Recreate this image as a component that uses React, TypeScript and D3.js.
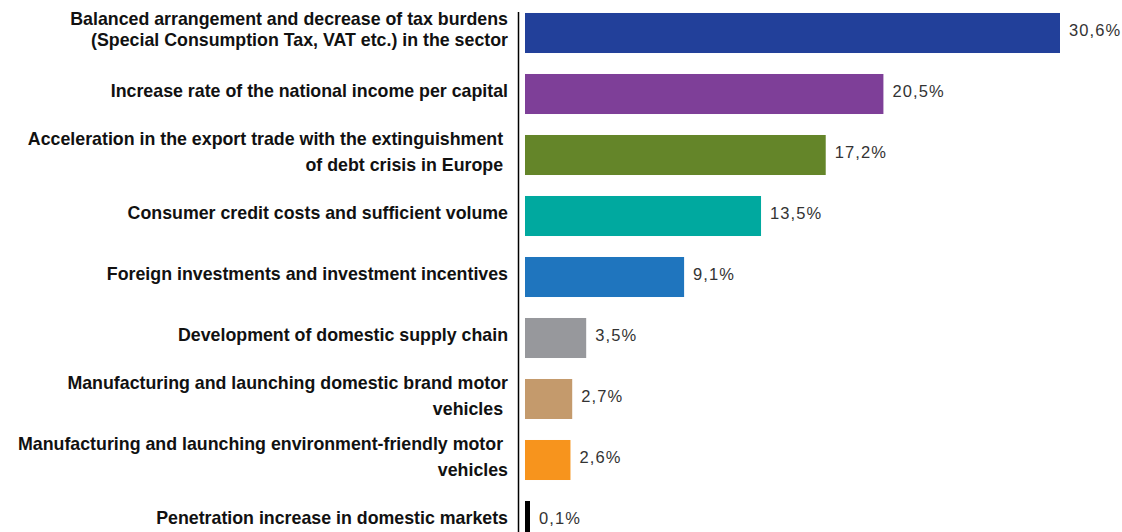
import React from "react";
import * as d3 from "d3";

const categories: string[][] = [
  ["Balanced arrangement and decrease of tax burdens", "(Special Consumption Tax, VAT etc.) in the sector"],
  ["Increase rate of the national income per capital"],
  ["Acceleration in the export trade with the extinguishment ", "of debt crisis in Europe "],
  ["Consumer credit costs and sufficient volume"],
  ["Foreign investments and investment incentives"],
  ["Development of domestic supply chain"],
  ["Manufacturing and launching domestic brand motor", "vehicles "],
  ["Manufacturing and launching environment-friendly motor ", "vehicles"],
  ["Penetration increase in domestic markets"],
];
const values: number[] = [30.6, 20.5, 17.2, 13.5, 9.1, 3.5, 2.7, 2.6, 0.1];
const valueLabels: string[] = ["30,6%", "20,5%", "17,2%", "13,5%", "9,1%", "3,5%", "2,7%", "2,6%", "0,1%"];
const colors: string[] = ["#22409A", "#7E3F98", "#648529", "#00A99F", "#1F75BE", "#97989C", "#C49A6C", "#F7941D", "#000000"];
const lineGaps: number[] = [21, 0, 26, 0, 0, 0, 26, 26, 0];

export default function App() {
  const W = 1122, H = 532;
  const ids = categories.map((_, i) => String(i));
  const y = d3.scaleBand<string>().domain(ids).range([2.5, 551.5]).paddingInner(0.344).paddingOuter(0.172);
  const x = d3.scaleLinear().domain([0, d3.max(values) as number]).range([525, 1060]);
  const labelFont = "'Liberation Sans Narrow', 'Liberation Sans', Arial, sans-serif";
  return (
    <svg width={W} height={H} style={{ position: "absolute", left: 0, top: 0, background: "#fff" }}>
      {values.map((v, i) => {
        const y0 = y(String(i)) as number;
        const bw = y.bandwidth();
        const cy = y0 + bw / 2;
        const wBar = Math.max(x(v) - x(0), 5);
        const lines = categories[i];
        const gap = lineGaps[i];
        return (
          <g key={i}>
            <rect x={x(0)} y={y0} width={wBar} height={bw} fill={colors[i]} />
            <text x={x(0) + wBar + 9} y={cy + 2.5} fontFamily="'Liberation Sans', Arial, sans-serif" fontSize={16.5} letterSpacing={1.1} fill="#333">
              {valueLabels[i]}
            </text>
            {lines.map((t, j) => (
              <text
                key={j}
                x={508}
                y={cy + 2.5 + (j - (lines.length - 1) / 2) * gap}
                textAnchor="end"
                fontFamily={labelFont}
                fontWeight="bold"
                fontSize={17.8}
                fill="#111"
                style={{ whiteSpace: "pre" }}
              >
                {t}
              </text>
            ))}
          </g>
        );
      })}
      <line x1={518.5} x2={518.5} y1={12} y2={H} stroke="#000" strokeWidth={1.5} />
    </svg>
  );
}
